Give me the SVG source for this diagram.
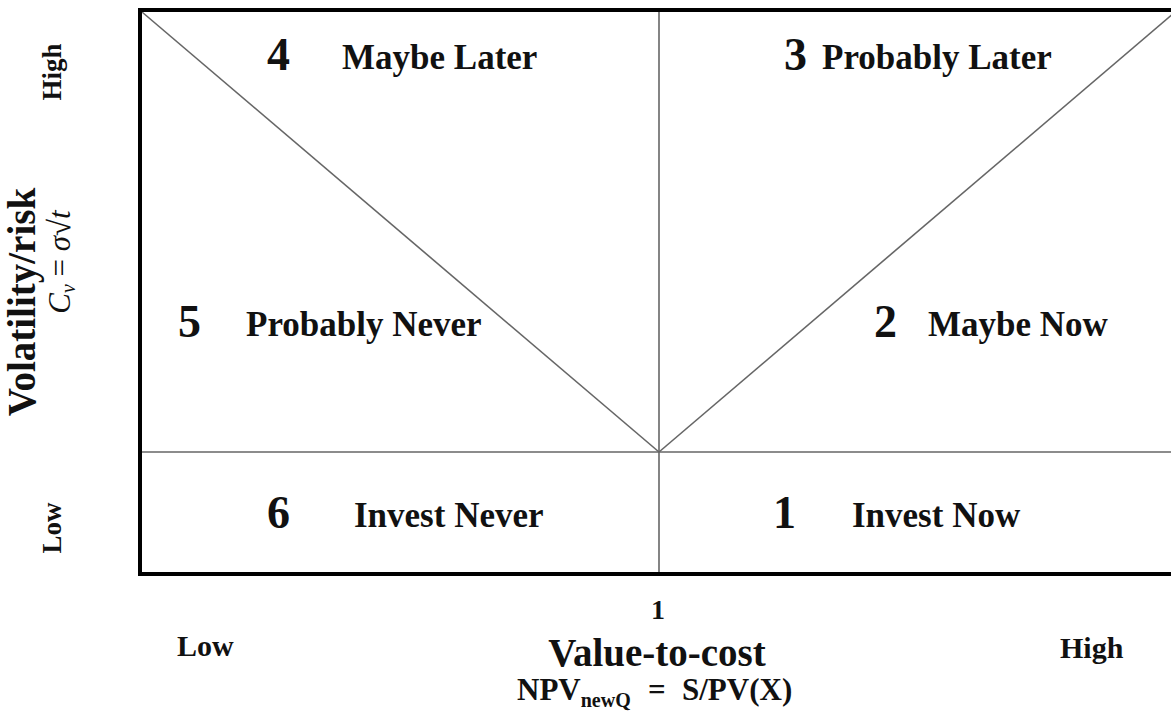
<svg xmlns="http://www.w3.org/2000/svg" width="1171" height="717" viewBox="0 0 1171 717">
<style>
text{font-family:"Liberation Serif","Times New Roman",serif;font-weight:bold;fill:#111}
.num{font-size:46px}
.lab{font-size:35px}
.ax{font-size:30px}
.frame{stroke:#000;stroke-width:4;fill:none}
.grid{stroke:#666;stroke-width:1.6;fill:none}
</style>
<rect width="1171" height="717" fill="#fff"/>
<g id="connectors">
<line class="grid" x1="142" y1="12" x2="659" y2="452"/>
<line class="grid" x1="659" y1="452" x2="1174" y2="13"/>
<line class="grid" x1="659" y1="10" x2="659" y2="574"/>
<line class="grid" x1="140" y1="452" x2="1171" y2="452"/>
<polyline class="frame" points="1171,10 140,10 140,574 1171,574"/>
</g>
<g id="q4"><text class="num" x="267" y="70">4</text><text class="lab" x="342" y="69">Maybe Later</text></g>
<g id="q3"><text class="num" x="784" y="70">3</text><text class="lab" x="822" y="69">Probably Later</text></g>
<g id="q5"><text class="num" x="178" y="337">5</text><text class="lab" x="246" y="336">Probably Never</text></g>
<g id="q2"><text class="num" x="874" y="337">2</text><text class="lab" x="928" y="336">Maybe Now</text></g>
<g id="q6"><text class="num" x="267" y="528">6</text><text class="lab" x="354" y="527">Invest Never</text></g>
<g id="q1"><text class="num" x="773" y="528">1</text><text class="lab" x="852" y="527">Invest Now</text></g>
<g id="y-axis">
<text transform="translate(61,72) rotate(-90)" text-anchor="middle" style="font-size:27px">High</text>
<text transform="translate(35,302) rotate(-90)" text-anchor="middle" style="font-size:39px">Volatility/risk</text>
<g transform="translate(70,262) rotate(-90)">
<text text-anchor="middle" style="font-size:31px;font-weight:normal;font-style:italic"><tspan>C</tspan><tspan font-size="20" dy="5">v</tspan><tspan dy="-5" font-style="normal"> = </tspan><tspan>σ</tspan><tspan font-style="normal">√</tspan><tspan>t</tspan></text>
</g>
<text transform="translate(61,528) rotate(-90)" text-anchor="middle" style="font-size:27px">Low</text>
</g>
<g id="x-axis">
<text x="658" y="619" text-anchor="middle" style="font-size:28px">1</text>
<text class="ax" x="177" y="656">Low</text>
<text class="ax" x="1060" y="658">High</text>
<text x="657" y="666" text-anchor="middle" style="font-size:39px">Value-to-cost</text>
<text y="700" style="font-size:31px"><tspan x="517">NPV</tspan><tspan font-size="20" dy="7">newQ</tspan><tspan x="648" dy="-7">=</tspan><tspan x="682">S/PV(X)</tspan></text>
</g>
</svg>
